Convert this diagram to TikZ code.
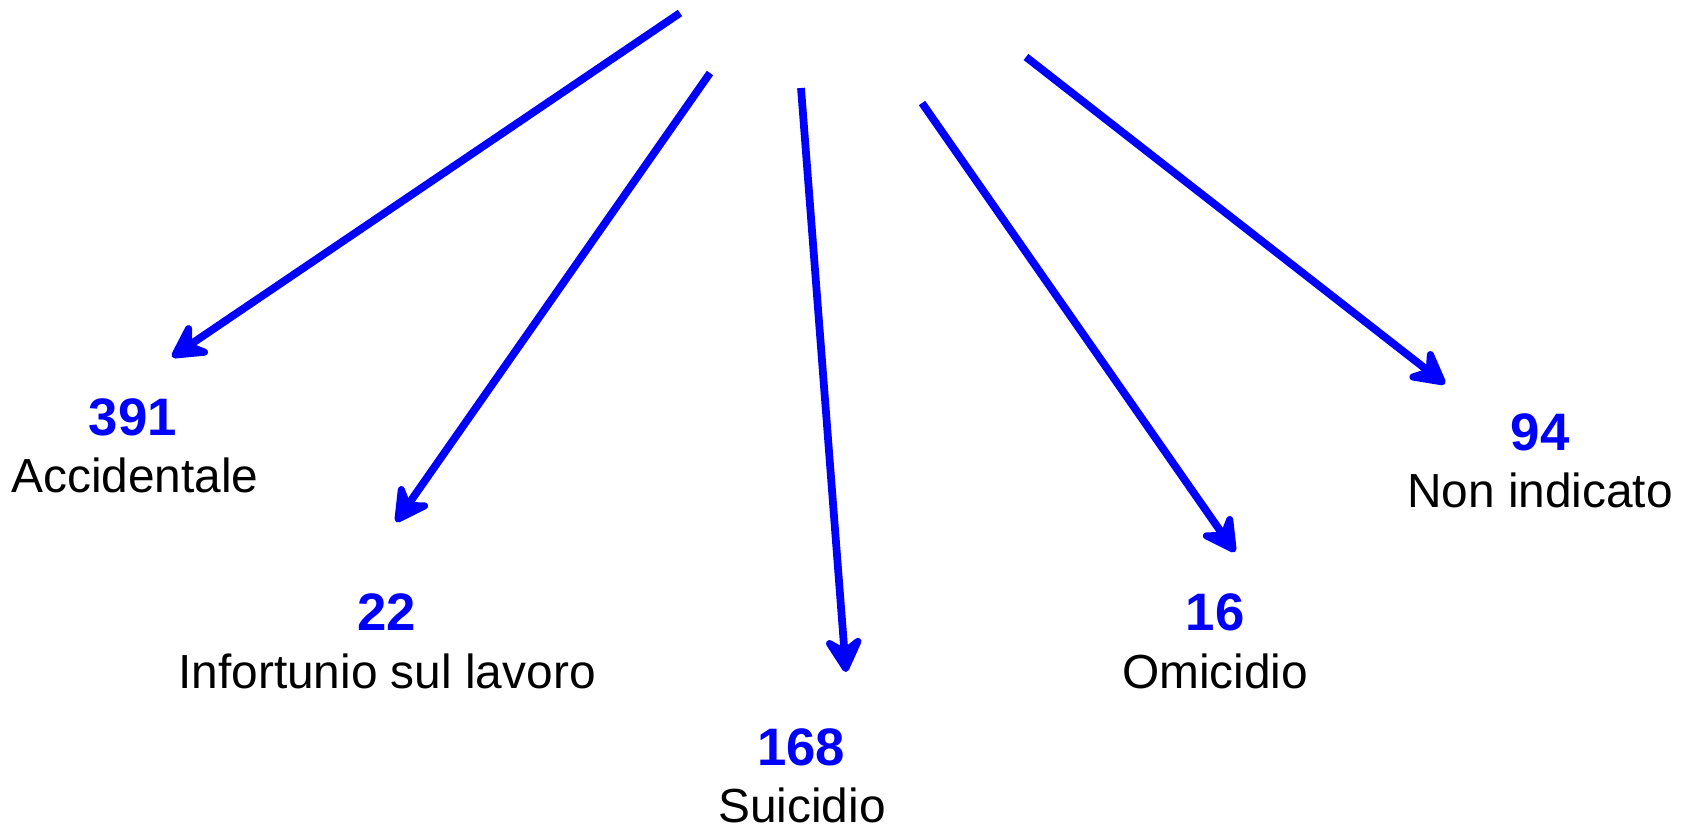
\documentclass[tikz,border=0pt]{standalone}
\usepackage{fontspec}
\setmainfont{Liberation Sans}
\usetikzlibrary{arrows.meta}
\tikzset{
  conn/.style={draw={rgb,255:red,0;green,0;blue,255}, line width=2.2pt,
    -{Stealth[length=12.5pt, width=13.5pt, inset=4.5pt, round]}},
  num/.style={anchor=base, inner sep=0pt, text={rgb,255:red,0;green,0;blue,255}, font=\fontsize{15}{18}\selectfont\bfseries},
  lab/.style={anchor=base, inner sep=0pt, text=black, font=\fontsize{13.6}{16}\selectfont},
}
\begin{document}
\begin{tikzpicture}[x=0.01cm, y=-0.01cm]
\useasboundingbox (0,0) rectangle (1688,827);
% start points
\coordinate (s1) at (680,13);
\coordinate (s2) at (710,73);
\coordinate (s3) at (801,88);
\coordinate (s4) at (922,103);
\coordinate (s5) at (1026,57);
% tips
\coordinate (t1) at (172,357);
\coordinate (t2) at (396,522);
\coordinate (t3) at (846,672);
\coordinate (t4) at (1235,552);
\coordinate (t5) at (1445,384);
\draw[conn] (s1) -- (t1);
\draw[conn] (s2) -- (t2);
\draw[conn] (s3) -- (t3);
\draw[conn] (s4) -- (t4);
\draw[conn] (s5) -- (t5);
% labels
\node[num] (n1) at (133,435) {391};
\node[lab] (l1) at (135,492) {Accidentale};
\node[num] (n2) at (387,630) {22};
\node[lab] (l2) at (387,688) {Infortunio sul lavoro};
\node[num] (n3) at (801,765) {168};
\node[lab] (l3) at (802,822) {Suicidio};
\node[num] (n4) at (1215,630) {16};
\node[lab] (l4) at (1215,688) {Omicidio};
\node[num] (n5) at (1540,450) {94};
\node[lab] (l5) at (1540,507) {Non indicato};
\end{tikzpicture}
\end{document}
